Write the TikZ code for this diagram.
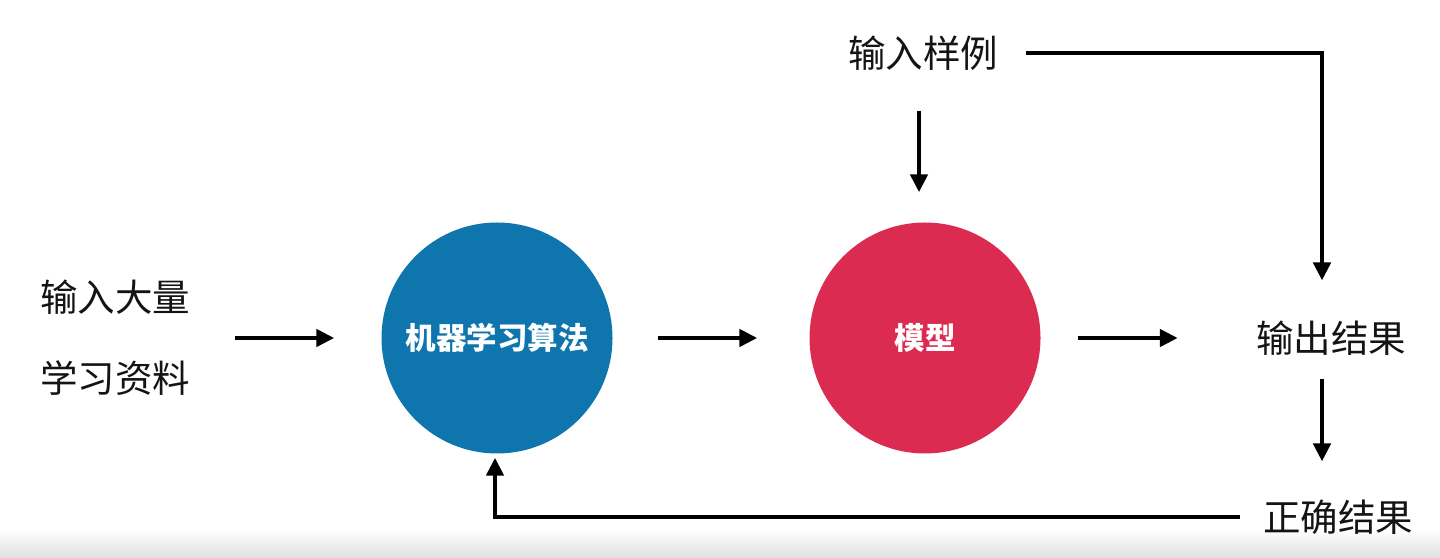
\documentclass[tikz,border=0pt]{standalone}
\usepackage{fontspec}
\setmainfont{Noto Sans CJK SC}
\usetikzlibrary{arrows.meta,calc}
\definecolor{algblue}{HTML}{0F75AD}
\definecolor{modelred}{HTML}{DC2B50}
\definecolor{ink}{HTML}{141414}
\tikzset{
  label text/.style={inner sep=0pt, text=ink, font=\fontsize{37.5}{81}\selectfont},
  circ/.style={circle, inner sep=0pt, minimum size=231pt, text=white, font=\fontsize{30.5}{33}\selectfont\bfseries},
  arr/.style={line width=4.5pt, draw=black, -{Triangle[length=18pt,width=17pt]}},
  plain line/.style={line width=4.5pt, draw=black}
}
\begin{document}
\begin{tikzpicture}[x=1pt,y=1pt]
\useasboundingbox (0,0) rectangle (1440,557);
\shade[top color=white, bottom color=black!12] (0,0) rectangle (1440,28);
% nodes
\node[label text, anchor=west, align=left] (inp) at (40,219.5) {输入大量\\学习资料};
\node[circ, fill=algblue] (alg) at (497,219) {机器学习算法};
\node[circ, fill=modelred] (model) at (925,219) {模型};
\node[label text] (sample) at (923,504) {输入样例};
\node[label text] (out) at (1331,219) {输出结果};
\node[label text] (right) at (1338,40) {正确结果};
\coordinate (cx) at (1322,0);
% connectors
\draw[arr, shorten <=45pt, shorten >=47pt] (inp.east |- alg) -- (alg.west);
\draw[arr, shorten <=45pt, shorten >=52pt] (alg.east) -- (model.west);
\draw[arr, shorten <=37pt, shorten >=78pt] (model.east) -- (out.west |- model);
\draw[arr, shorten <=40pt, shorten >=30pt] ([xshift=-4pt]sample.south) -- ([xshift=-6pt]model.north);
\draw[plain line, -{Triangle[length=18pt,width=17pt]}, shorten >=40pt]
  ([xshift=28pt]sample.east) -- (sample.east -| cx) -- (out.north -| cx);
\draw[arr, shorten <=23pt, shorten >=38pt] (out.south -| cx) -- (right.north -| cx);
\draw[plain line, -{Triangle[length=18pt,width=17pt]}, shorten >=4pt]
  ([xshift=-23pt]right.west) -- ($(alg.south |- right.west)+(-2pt,0)$) -- ([xshift=-2pt]alg.south);
\end{tikzpicture}
\end{document}
